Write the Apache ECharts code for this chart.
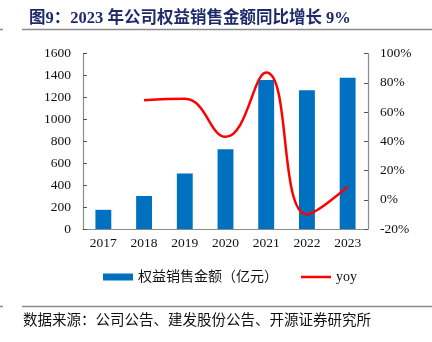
<!DOCTYPE html>
<html>
<head>
<meta charset="utf-8">
<style>
  html, body { margin: 0; padding: 0; background: #fff; }
  #chart { width: 432px; height: 342px; }
</style>
<script src="https://cdn.jsdelivr.net/npm/echarts@6/dist/echarts.min.js"></script>
</head>
<body>
<div id="chart"></div>
<script>
const years = ['2017', '2018', '2019', '2020', '2021', '2022', '2023'];
const salesValues = [175, 301, 507, 727, 1358, 1265, 1380];
const yoyValues = [null, 68, 69, 43, 87, -10, 9];
const leftTicks = [0, 200, 400, 600, 800, 1000, 1200, 1400, 1600];
const rightTicks = [-20, 0, 20, 40, 60, 80, 100];

const serif = '"Liberation Serif", "Noto Sans CJK SC", serif';
const axisGray = '#8c8c8c';

const chart = echarts.init(document.getElementById('chart'), null, { renderer: 'canvas' });

chart.setOption({
  animation: false,
  backgroundColor: '#fff',
  textStyle: { fontFamily: serif },
  title: {
    text: '图9：2023 年公司权益销售金额同比增长 9%',
    left: 24,
    top: 5,
    textStyle: {
      fontFamily: serif,
      fontSize: 16.5,
      fontWeight: 'bold',
      color: '#1f2a6b'
    }
  },
  graphic: [
    { type: 'line', shape: { x1: 22, y1: 29.5, x2: 432, y2: 29.5 }, style: { stroke: '#8a8a8a', lineWidth: 1.5 } },
    { type: 'line', shape: { x1: 0, y1: 29.5, x2: 3, y2: 29.5 }, style: { stroke: '#8a8a8a', lineWidth: 1.5 } },
    { type: 'line', shape: { x1: 22, y1: 306.5, x2: 432, y2: 306.5 }, style: { stroke: '#8a8a8a', lineWidth: 1.5 } },
    { type: 'line', shape: { x1: 0, y1: 306.5, x2: 3, y2: 306.5 }, style: { stroke: '#8a8a8a', lineWidth: 1.5 } },
    {
      type: 'text', left: 23, top: 312,
      style: {
        text: '数据来源：公司公告、建发股份公告、开源证券研究所',
        font: '14.5px "Noto Sans CJK SC", sans-serif',
        fill: '#111'
      }
    }
  ],
  legend: {
    top: 270,
    left: 103,
    padding: 0,
    itemGap: 23,
    itemWidth: 30,
    itemHeight: 7,
    textStyle: { fontFamily: serif, fontSize: 14, color: '#111' },
    data: [
      { name: '权益销售金额（亿元）', icon: 'rect' },
      { name: 'yoy', icon: 'path://M0,0 L30,0 L30,2.5 L0,2.5 Z' }
    ]
  },
  grid: { left: 83, right: 64, top: 53.5, bottom: 113 },
  xAxis: {
    type: 'category',
    data: years,
    axisLine: { lineStyle: { color: axisGray, width: 1.2 } },
    axisTick: { inside: true, length: 4, lineStyle: { color: '#555' } },
    axisLabel: { color: '#111', fontSize: 13.5, fontFamily: serif, margin: 8 }
  },
  yAxis: [
    {
      type: 'value', min: 0, max: 1600, interval: 200,
      splitLine: { show: false },
      axisLine: { show: true, lineStyle: { color: axisGray, width: 1.2 } },
      axisTick: { show: true, inside: true, length: 4, lineStyle: { color: '#555' } },
      axisLabel: {
        color: '#111', fontSize: 13.5, fontFamily: serif, margin: 12,
        formatter: v => leftTicks.includes(v) ? String(v) : ''
      }
    },
    {
      type: 'value', min: -20, max: 100, interval: 20,
      splitLine: { show: false },
      axisLine: { show: true, lineStyle: { color: axisGray, width: 1.2 } },
      axisTick: { show: true, inside: true, length: 4, lineStyle: { color: '#555' } },
      axisLabel: {
        color: '#111', fontSize: 13.5, fontFamily: serif, margin: 12,
        formatter: v => rightTicks.includes(v) ? v + '%' : ''
      }
    }
  ],
  series: [
    {
      name: '权益销售金额（亿元）',
      type: 'bar',
      data: salesValues,
      barWidth: '39%',
      itemStyle: { color: '#0070c0' }
    },
    {
      name: 'yoy',
      type: 'line',
      yAxisIndex: 1,
      data: yoyValues,
      smooth: 0.45,
      showSymbol: false,
      symbol: 'none',
      lineStyle: { color: '#ff0000', width: 2.5 },
      itemStyle: { color: '#ff0000' }
    }
  ]
});
</script>
</body>
</html>
